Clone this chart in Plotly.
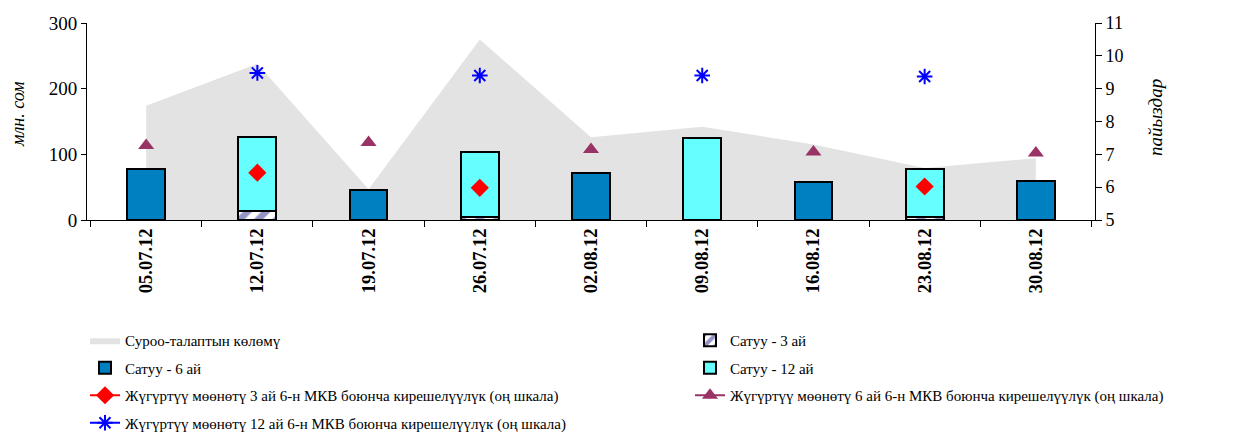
import plotly.graph_objects as go

categories = ["05.07.12", "12.07.12", "19.07.12", "26.07.12", "02.08.12",
              "09.08.12", "16.08.12", "23.08.12", "30.08.12"]
demand = [174, 238, 47, 275, 126, 142, 115, 79, 94]
sale_3m = [None, 14, None, 5, None, None, None, 5, None]
sale_6m = [78, None, 45, None, 71, None, 58, None, 60]
sale_12m = [None, 113, None, 99, None, 125, None, 72, None]
yield_3m = [None, 6.44, None, 5.98, None, None, None, 6.02, None]
yield_6m = [7.27, None, 7.36, None, 7.15, None, 7.07, None, 7.04]
yield_12m = [None, 9.48, None, 9.40, None, 9.40, None, 9.37, None]

names = {
    "demand": "Суроо-талаптын көлөмү",
    "s3": "Сатуу - 3 ай",
    "s6": "Сатуу - 6 ай",
    "s12": "Сатуу - 12 ай",
    "y3": "Жүгүртүү мөөнөтү 3 ай 6-н МКВ боюнча кирешелүүлүк (оң шкала)",
    "y6": "Жүгүртүү мөөнөтү 6 ай 6-н МКВ боюнча кирешелүүлүк (оң шкала)",
    "y12": "Жүгүртүү мөөнөтү 12 ай 6-н МКВ боюнча кирешелүүлүк (оң шкала)",
}
left_title = "млн. сом"
right_title = "пайыздар"

FONT = "Times New Roman, Liberation Serif, serif"

# the page places the figure 8px from the top-left corner of the window
W, H = 1227, 425
L, R, T, B = 79, 140, 15, 213
PW, PH = W - L - R, H - T - B

fig = go.Figure()

fig.add_trace(go.Scatter(x=categories, y=demand, name=names["demand"], mode="lines",
                         fill="tozeroy", fillcolor="#E3E3E3", line=dict(width=0, color="#E3E3E3"),
                         yaxis="y", legend="legend", legendgroup="a", legendrank=1))

bar_line = dict(color="black", width=2)
fig.add_trace(go.Bar(x=categories, y=sale_3m, name=names["s3"], yaxis="y2",
                     marker=dict(color="white", line=bar_line,
                                 pattern=dict(shape="/", fgcolor="#2A2A90", bgcolor="white",
                                              size=13, solidity=0.5)),
                     legend="legend2", legendgroup="b", legendrank=1))
fig.add_trace(go.Bar(x=categories, y=sale_6m, name=names["s6"], yaxis="y2",
                     marker=dict(color="#0080C0", line=bar_line),
                     legend="legend", legendgroup="c", legendrank=2))
fig.add_trace(go.Bar(x=categories, y=sale_12m, name=names["s12"], yaxis="y2",
                     marker=dict(color="#66FFFF", line=bar_line),
                     legend="legend2", legendgroup="d", legendrank=2))

fig.add_trace(go.Scatter(x=categories, y=yield_3m, name=names["y3"], yaxis="y3",
                         mode="lines+markers", line=dict(color="#FF0000", width=2),
                         marker=dict(symbol="diamond", size=14, color="#FF0000"),
                         legend="legend", legendgroup="e", legendrank=3))
fig.add_trace(go.Scatter(x=categories, y=yield_6m, name=names["y6"], yaxis="y3",
                         mode="lines+markers", line=dict(color="#993366", width=2),
                         marker=dict(symbol="triangle-up", size=14, color="#993366"),
                         legend="legend2", legendgroup="f", legendrank=3))
fig.add_trace(go.Scatter(x=categories, y=yield_12m, name=names["y12"], yaxis="y3",
                         mode="lines+markers", line=dict(color="#0000FF", width=2),
                         marker=dict(symbol="asterisk-open", size=13,
                                     line=dict(color="#0000FF", width=2)),
                         legend="legend", legendgroup="g", legendrank=4))

legend_common = dict(font=dict(family=FONT, size=15, color="black"),
                     bgcolor="rgba(0,0,0,0)", traceorder="grouped", tracegroupgap=5,
                     xref="container", yref="container",
                     xanchor="left", yanchor="top", itemwidth=30)

fig.update_layout(
    width=W, height=H,
    margin=dict(l=L, r=R, t=T, b=B, autoexpand=False),
    paper_bgcolor="white", plot_bgcolor="white",
    font=dict(family=FONT, color="black"),
    barmode="stack", bargap=0.66,
    showlegend=True,
    legend=dict(x=77 / W, y=1 - 316 / H, **legend_common),
    legend2=dict(x=682 / W, y=1 - 316 / H, **legend_common),
    xaxis=dict(type="category", tickson="boundaries", ticks="outside", ticklen=6,
               tickcolor="black", showline=True, linecolor="black", linewidth=1,
               tickangle=-90, tickfont=dict(family=FONT, size=18.5, weight="bold", color="black"),
               showgrid=False, zeroline=False),
    yaxis=dict(range=[0, 300], tickvals=[0, 100, 200, 300], ticks="outside", ticklen=5,
               tickcolor="black", showline=True, linecolor="black", linewidth=1,
               showgrid=False, zeroline=False, ticksuffix="\u00a0",
               tickfont=dict(family=FONT, size=19, color="black")),
    yaxis2=dict(range=[0, 300], overlaying="y", visible=False, showgrid=False),
    yaxis3=dict(range=[5, 11], tickvals=[5, 6, 7, 8, 9, 10, 11], overlaying="y", side="right",
                anchor="x", ticks="outside", ticklen=6, tickcolor="black", showline=True,
                linecolor="black", linewidth=1, showgrid=False, zeroline=False,
                tickprefix="\u00a0\u2009",
                tickfont=dict(family=FONT, size=18, color="black")),
    annotations=[
        dict(text=left_title, textangle=-90, showarrow=False,
             xref="paper", yref="paper", x=(10 - L) / PW, y=(T + PH - 106) / PH,
             xanchor="center", yanchor="middle",
             font=dict(family=FONT, size=18, style="italic", color="black")),
        dict(text=right_title, textangle=-90, showarrow=False,
             xref="paper", yref="paper", x=(1147 - L) / PW, y=(T + PH - 110) / PH,
             xanchor="center", yanchor="middle",
             font=dict(family=FONT, size=19, style="italic", color="black")),
    ],
)

fig.write_html("out.html")
